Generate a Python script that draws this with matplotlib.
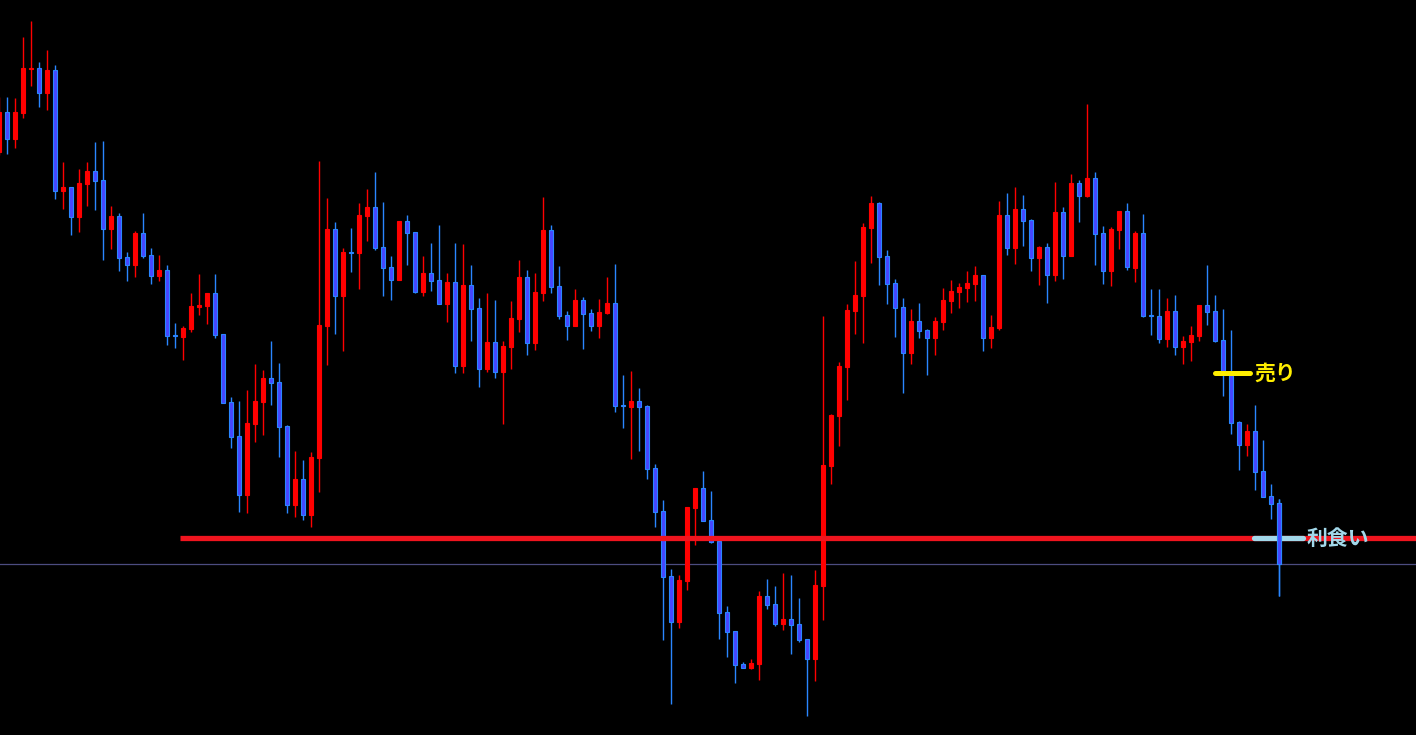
import numpy as np
import matplotlib
matplotlib.use("Agg")
import matplotlib.pyplot as plt

plt.rcParams['font.family'] = ['Noto Sans CJK JP', 'DejaVu Sans']

# candle index (first one is cut by the left edge)
bars = np.arange(-1, 160)

opens = [583, 623, 596, 622, 666, 667, 642, 665, 544, 548, 518, 551, 564, 555, 506, 519, 478, 470, 502, 480,
         459, 465, 400, 398, 406, 428, 429, 442, 401, 333, 299, 240, 311, 333, 357, 353, 309, 230, 256, 220,
         277, 409, 506, 439, 483, 482, 519, 528, 488, 468, 455, 514, 503, 443, 462, 455, 431, 453, 369, 450,
         427, 366, 393, 363, 388, 416, 458, 392, 442, 505, 449, 420, 409, 435, 422, 409, 422, 432, 330, 328,
         334, 329, 267, 224, 159, 113, 154, 227, 247, 215, 194, 123, 104, 71, 67, 71, 139, 131, 111, 116,
         111, 96, 76, 149, 269, 319, 368, 424, 439, 507, 532, 479, 452, 428, 382, 414, 405, 397, 413, 434,
         443, 447, 451, 460, 397, 407, 520, 487, 526, 515, 477, 488, 460, 523, 479, 552, 539, 557, 502, 464,
         505, 524, 467, 502, 420, 419, 396, 424, 388, 393, 399, 430, 424, 395, 360, 313, 290, 304, 264, 239,
         232]
highs = [638, 638, 637, 698, 714, 673, 685, 670, 573, 548, 566, 573, 593, 594, 529, 522, 483, 504, 522, 487,
         480, 470, 412, 409, 442, 461, 442, 461, 401, 338, 334, 345, 371, 365, 394, 372, 310, 284, 275, 283,
         574, 537, 513, 487, 507, 532, 546, 563, 533, 479, 514, 520, 503, 479, 492, 510, 462, 492, 491, 470,
         437, 442, 435, 394, 434, 475, 465, 462, 538, 510, 469, 424, 446, 438, 426, 436, 458, 471, 360, 364,
         347, 330, 271, 235, 166, 160, 228, 247, 264, 244, 194, 129, 104, 73, 76, 144, 156, 149, 162, 160,
         137, 96, 165, 419, 321, 373, 431, 474, 512, 539, 533, 485, 456, 437, 426, 432, 406, 418, 447, 455,
         452, 464, 469, 460, 420, 534, 542, 548, 540, 516, 489, 492, 553, 528, 561, 555, 631, 563, 509, 508,
         524, 532, 504, 521, 446, 446, 437, 440, 399, 409, 430, 470, 440, 426, 405, 314, 311, 330, 295, 251,
         236]
lows = [580, 581, 587, 617, 649, 628, 625, 536, 526, 500, 503, 529, 525, 475, 486, 464, 454, 458, 477, 451,
        454, 390, 387, 375, 403, 420, 411, 397, 332, 287, 223, 222, 293, 300, 330, 278, 222, 218, 215, 208,
        243, 370, 401, 384, 463, 446, 494, 485, 439, 435, 455, 470, 442, 439, 444, 431, 413, 362, 362, 394,
        348, 363, 357, 311, 366, 403, 380, 385, 434, 442, 416, 395, 409, 386, 404, 397, 421, 323, 307, 276,
        284, 256, 208, 95, 31, 107, 145, 190, 214, 192, 96, 78, 52, 67, 66, 55, 126, 109, 105, 81,
        93, 19, 54, 115, 251, 289, 335, 401, 392, 472, 450, 431, 398, 342, 371, 397, 360, 380, 405, 422,
        427, 433, 434, 384, 387, 405, 480, 471, 489, 464, 450, 432, 454, 456, 479, 513, 538, 470, 451, 449,
        486, 465, 453, 418, 400, 392, 388, 380, 371, 374, 394, 410, 393, 339, 301, 265, 279, 245, 238, 216,
        139]
closes = [623, 596, 623, 667, 667, 642, 665, 544, 548, 518, 552, 564, 554, 506, 519, 477, 470, 502, 479, 459,
          465, 399, 399, 407, 429, 430, 442, 400, 332, 298, 240, 312, 334, 357, 352, 308, 230, 256, 220, 278,
          410, 506, 439, 483, 482, 520, 528, 487, 467, 455, 514, 502, 443, 462, 454, 431, 453, 369, 450, 426,
          366, 393, 363, 389, 417, 458, 392, 443, 505, 448, 419, 409, 435, 421, 409, 423, 432, 329, 329, 334,
          328, 266, 223, 158, 113, 155, 228, 247, 214, 193, 122, 103, 70, 67, 72, 139, 130, 111, 116, 110,
          95, 76, 150, 270, 320, 369, 425, 440, 508, 532, 478, 451, 427, 382, 414, 404, 397, 414, 435, 444,
          448, 452, 460, 397, 408, 520, 487, 526, 514, 477, 488, 460, 523, 479, 552, 539, 557, 501, 464, 506,
          524, 468, 502, 419, 419, 396, 424, 388, 394, 400, 430, 423, 394, 360, 312, 290, 304, 263, 238, 231,
          171]

tp_level = 197      # red horizontal line / take profit
sell_level = 362    # sell marker
bid_level = 171.5   # current price line

sell_label = '売り'
tp_label = '利食い'

UP_COLOR = '#ff0000'
DOWN_FILL = '#4646ff'
DOWN_EDGE = '#2a86ff'
TP_BLUE = '#a2d8ea'
SELL_YELLOW = '#ffee00'

o = np.array(opens)
h = np.array(highs)
l = np.array(lows)
c = np.array(closes)
up = c >= o

fig = plt.figure(figsize=(14.16, 7.35), dpi=100)
fig.patch.set_facecolor('black')
ax = fig.add_axes([0, 0, 1, 1])
ax.set_facecolor('black')

px = 1 / 8.0  # one pixel in x data units


def draw_candles(mask, z):
    u = mask & up
    d = mask & ~up
    lo = np.minimum(o, c)
    bh = np.maximum(np.abs(c - o), 1.2)
    ax.vlines(bars[u], l[u], h[u], color=UP_COLOR, lw=1.0, zorder=z)
    ax.vlines(bars[d], l[d], h[d], color=DOWN_EDGE, lw=1.0, zorder=z)
    ax.bar(bars[u], bh[u], bottom=lo[u], width=4 * px,
           color=UP_COLOR, edgecolor=UP_COLOR, linewidth=0.8, zorder=z + 0.1)
    ax.bar(bars[d], bh[d], bottom=lo[d], width=4 * px,
           color=DOWN_FILL, edgecolor=DOWN_EDGE, linewidth=0.8, zorder=z + 0.1)


draw_candles(np.ones(len(bars), dtype=bool), 3)
# the latest candle sits on top of the take-profit marker
draw_candles(bars == bars[-1], 6)

# price lines
ax.axhline(bid_level, color='#4c4c80', lw=0.9, zorder=1)
ax.hlines(tp_level, 21.6, 200, color='#f0141e', lw=3.8, zorder=4)

# markers with labels
ax.hlines(sell_level, 151.0, 155.3, color=SELL_YELLOW, lw=3.6, capstyle='round', zorder=7)
ax.text(155.85, sell_level, sell_label, color=SELL_YELLOW, fontsize=15,
        fontweight='bold', va='center', ha='left', zorder=8)
ax.hlines(tp_level, 155.8, 162.0, color=TP_BLUE, lw=3.8, capstyle='round', zorder=5)
ax.text(162.35, tp_level, tp_label, color=TP_BLUE, fontsize=15,
        fontweight='bold', va='center', ha='left', zorder=8)

ax.set_xlim(-7.3 / 8, (1416 - 7.3) / 8)
ax.set_ylim(0, 735)
ax.axis('off')

fig.savefig('out.png', dpi=100, facecolor='black')
